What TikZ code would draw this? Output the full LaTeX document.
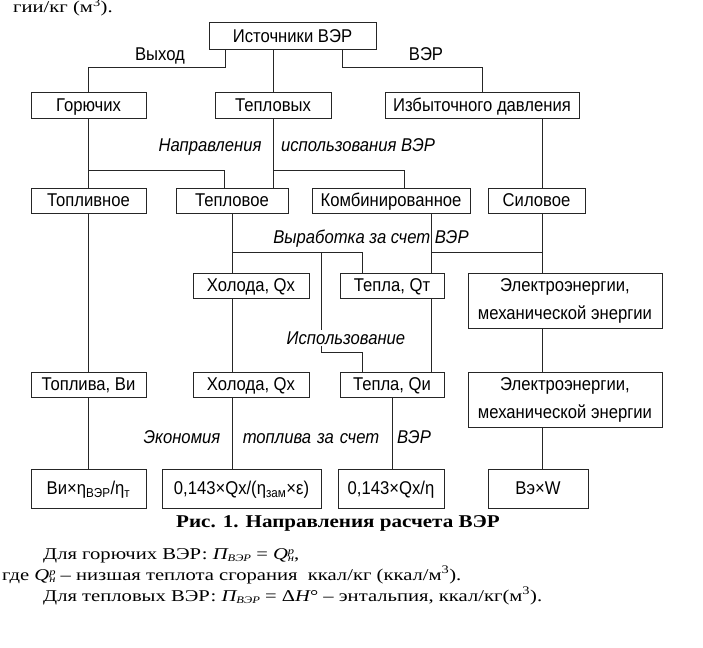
\documentclass[tikz,border=0pt]{standalone}
\usepackage{fontspec}
\setmainfont{Liberation Serif}
\newfontfamily\dsans[FakeStretch=0.9]{Liberation Sans}
\newfontfamily\bodyserif[FakeStretch=1.25]{Liberation Serif}
\newfontfamily\capserif[FakeStretch=1.17]{Liberation Serif}
\newcommand{\dsize}{\fontsize{18.5}{27}\selectfont}
\newcommand{\smallscr}[1]{{\fontsize{10}{10}\selectfont\itshape #1}}
\newcommand{\QHP}{{\itshape Q}\rlap{\raisebox{5pt}{\smallscr{р}}}\raisebox{-2pt}{\smallscr{н}}}
\begin{document}
\begin{tikzpicture}[x=1pt,y=-1pt,
  box/.style={draw=black!85, line width=1pt, inner sep=0pt, align=center, text height=14pt, text depth=2pt, font=\dsans\dsize},
  twobox/.style={draw=black!85, line width=1pt, inner sep=0pt, align=center, font=\dsans\fontsize{18.5}{28}\selectfont},
  lab/.style={inner sep=0pt, text height=14pt, text depth=2pt, font=\dsans\itshape\dsize},
  plab/.style={inner sep=0pt, text height=14pt, text depth=2pt, font=\dsans\dsize},
  conn/.style={draw=black!85, line width=1pt},
  txt/.style={inner sep=0pt, anchor=base west, font=\bodyserif\fontsize{16.5}{18}\selectfont}]
\useasboundingbox[fill=white] (0,0) rectangle (703,647);
% helper x positions
\coordinate (c225) at (225,0);
\coordinate (c342) at (342,0);
\coordinate (c224) at (224,0);
\coordinate (c232) at (232,0);
\coordinate (c404) at (404,0);
\coordinate (c542) at (542,0);
\coordinate (c362) at (362,0);
\coordinate (c321) at (321,0);
\coordinate (c431) at (431,0);
\coordinate (c392) at (392,0);
\coordinate (y170) at (0,170);
\coordinate (y252) at (0,252);
\coordinate (y352) at (0,352);

\node[txt] (toptxt) at (13,13) {гии/кг (м\textsuperscript{3}).};

\node[box, minimum width=167, minimum height=27] (ist) at (292.5,36.5) {Источники ВЭР};
\node[box, minimum width=115, minimum height=26] (gor) at (88.5,106) {Горючих};
\node[box, minimum width=116, minimum height=26] (tep) at (273,106) {Тепловых};
\node[box, minimum width=194, minimum height=26] (izb) at (482,106) {Избыточного давления};

\node[box, minimum width=115, minimum height=25] (topl) at (88.5,200.5) {Топливное};
\node[box, minimum width=112, minimum height=25] (tepl) at (232,200.5) {Тепловое};
\node[box, minimum width=158, minimum height=25] (komb) at (391,200.5) {Комбинированное};
\node[box, minimum width=97, minimum height=25] (sil) at (536.5,200.5) {Силовое};

\node[box, minimum width=116, minimum height=25] (hol1) at (251,285.5) {Холода, Qх};
\node[box, minimum width=104, minimum height=25] (tqt) at (392,285.5) {Тепла, Qт};
\node[twobox, minimum width=194, minimum height=55] (el1) at (565,300.5) {Электроэнергии,\\механической энергии};

\node[box, minimum width=115, minimum height=25] (topv) at (88.5,384.5) {Топлива, Ви};
\node[box, minimum width=116, minimum height=25] (hol2) at (251,384.5) {Холода, Qх};
\node[box, minimum width=104, minimum height=25] (tqi) at (392,384.5) {Тепла, Qи};
\node[twobox, minimum width=194, minimum height=55] (el2) at (565,399.5) {Электроэнергии,\\механической энергии};

\node[box, minimum width=115, minimum height=39] (f1) at (88.5,488.5) {Ви×η\textsubscript{ВЭР}/η\textsubscript{т}};
\node[box, minimum width=159, minimum height=39] (f2) at (241.5,488.5) {0,143×Qх/(η\textsubscript{зам}×ε)};
\node[box, minimum width=106, minimum height=39] (f3) at (391,488.5) {0,143×Qх/η};
\node[box, minimum width=100, minimum height=39] (f4) at (538,488.5) {Вэ×W};

% connectors
\draw[conn] (ist.south -| c225) -- ++(0,17) -| (gor.north);
\draw[conn] (ist.south -| tep.north) -- (tep.north);
\draw[conn] (ist.south -| c342) -- ++(0,17) -| (izb.north);

\draw[conn] (gor.south) -- (topl.north);
\draw[conn] (gor.south |- y170) -| (tepl.north -| c224);
\draw[conn] (tep.south) -- (tep.south |- tepl.north);
\draw[conn] (tep.south |- y170) -| (komb.north -| c404);
\draw[conn] (izb.south -| c542) -- (sil.north -| c542);

\draw[conn] (tepl.south) -- (tepl.south |- hol1.north);
\draw[conn] (tepl.south |- y252) -| (tqt.north -| c362);
\draw[conn] (y252 -| c321) |- (y352 -| c362) -- (tqi.north -| c362);
\draw[conn] (komb.south -| c431) -- (tqt.north -| c431);
\draw[conn] (y252 -| c431) -- (y252 -| c542);
\draw[conn] (sil.south -| c542) -- (el1.north -| c542);

\draw[conn] (hol1.south -| c232) -- (hol2.north -| c232);
\draw[conn] (tqt.south -| c431) -- (tqi.north -| c431);
\draw[conn] (el1.south -| c542) -- (el2.north -| c542);
\draw[conn] (topl.south) -- (topv.north);

\draw[conn] (topv.south) -- (f1.north);
\draw[conn] (hol2.south -| c232) -- (f2.north -| c232);
\draw[conn] (tqi.south -| c392) -- (f3.north -| c392);
\draw[conn] (el2.south -| c542) -- (f4.north -| c542);

% labels
\node[plab] (lvyh) at (160,55) {Выход};
\node[plab] (lver) at (426,55) {ВЭР};
\node[lab] (lnap) at (210,146) {Направления};
\node[lab] (lisp) at (358,146) {использования ВЭР};
\node[lab] (lvyr) at (371,237) {Выработка за счет ВЭР};
\node[lab, fill=white] (lisp2) at (346,338) {Использование};
\node[lab] (lek) at (182,437) {Экономия};
\node[lab] (ltop) at (311,437) {топлива\hspace{6pt}за\hspace{6pt}счет};
\node[lab] (lver2) at (414,437) {ВЭР};

% caption and text
\node[inner sep=0pt, anchor=base, font=\capserif\bfseries\fontsize{18}{20}\selectfont] (cap) at (338,527) {Рис. 1. Направления расчета ВЭР};
\node[txt] (t1) at (43,559) {Для горючих ВЭР: {\itshape П}\raisebox{-2pt}{\smallscr{ВЭР}} = \QHP,};
\node[txt] (t2) at (2,580) {где \QHP{} – низшая теплота сгорания\ \ ккал/кг (ккал/м\textsuperscript{3}).};
\node[txt] (t3) at (43,601) {Для тепловых ВЭР: {\itshape П}\raisebox{-2pt}{\smallscr{ВЭР}} = Δ{\itshape H}° – энтальпия, ккал/кг(м\textsuperscript{3}).};
\end{tikzpicture}
\end{document}
